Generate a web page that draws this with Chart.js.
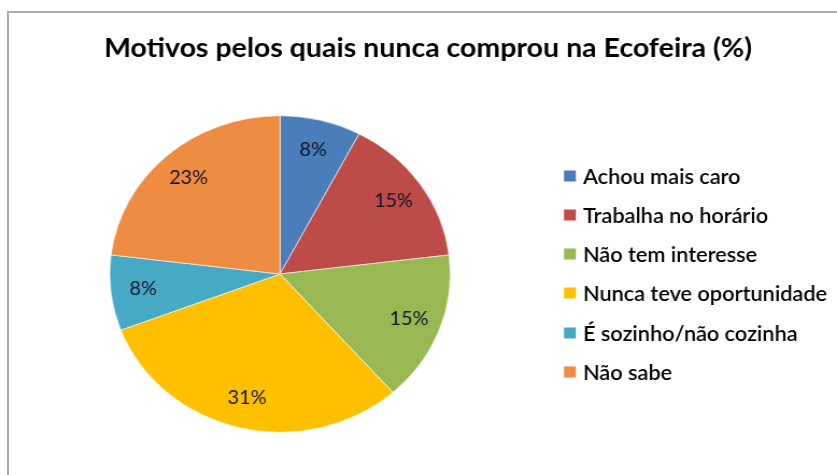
<!DOCTYPE html>
<html>
<head>
<meta charset="utf-8">
<script src="https://cdn.jsdelivr.net/npm/chart.js@4/dist/chart.umd.min.js"></script>
<style>
  html, body { margin: 0; padding: 0; background: #ffffff; overflow: hidden; }
  #wrap { position: relative; width: 837px; height: 475px; }
  #frame { position: absolute; left: 7px; top: 11px; width: 840px; height: 470px;
           border-left: 2px solid #ababab; border-top: 2px solid #ababab; box-sizing: border-box; }
  #c { position: absolute; left: 0; top: 0; }
</style>
</head>
<body>
<div id="wrap">
  <div id="frame"></div>
  <canvas id="c" width="778" height="475" style="width:837px;height:475px;"></canvas>
</div>
<script>
const titleText = 'Motivos pelos quais nunca comprou na Ecofeira (%)';
const categories = ['Achou mais caro', 'Trabalha no horário', 'Não tem interesse',
                    'Nunca teve oportunidade', 'É sozinho/não cozinha', 'Não sabe'];
const values = [7.7, 15.4, 15.4, 30.8, 7.7, 23.1];
const colors = ['#4A7DBA', '#BD4B48', '#97B853', '#FFC000', '#46AAC5', '#EE8D42'];

const K = 778 / 837; // horizontal compression of intrinsic canvas vs display
const FAMILY = 'Lato, "Open Sans", sans-serif';

function fitSize(ctx, text, weight, targetW) {
  ctx.font = weight + ' 20px ' + FAMILY;
  const w = ctx.measureText(text).width;
  return 20 * targetW / w;
}

const overlay = {
  id: 'overlay',
  afterDraw(chart) {
    const ctx = chart.ctx;
    ctx.save();
    // title: tall, condensed
    ctx.font = 'bold 26px ' + FAMILY;
    const tw = ctx.measureText(titleText).width;
    const sx = (648 * K) / tw;
    ctx.save();
    ctx.translate(428 * K, 57);
    ctx.scale(sx, 1);
    ctx.fillStyle = '#000000';
    ctx.textAlign = 'center';
    ctx.textBaseline = 'alphabetic';
    ctx.fillText(titleText, 0, 0);
    ctx.restore();

    // legend
    const ls = fitSize(ctx, categories[3], '600', 244 * K);
    ctx.font = '600 ' + ls.toFixed(2) + 'px ' + FAMILY;
    ctx.textAlign = 'left';
    ctx.textBaseline = 'middle';
    const rowY = [176, 215, 254, 293, 333, 372];
    categories.forEach((lab, i) => {
      const y = rowY[i];
      ctx.fillStyle = colors[i];
      ctx.fillRect(564 * K, y - 5.5, 11, 11);
      ctx.fillStyle = '#000000';
      ctx.fillText(lab, 583 * K, y + 1);
    });

    // data labels
    const meta = chart.getDatasetMeta(0);
    const ds = fitSize(ctx, '15%', 'normal', 39 * K);
    ctx.font = 'normal ' + ds.toFixed(2) + 'px ' + FAMILY;
    ctx.fillStyle = '#15152a';
    ctx.textAlign = 'center';
    ctx.textBaseline = 'middle';
    meta.data.forEach((arc, i) => {
      const p = arc.getProps(['x', 'y', 'startAngle', 'endAngle', 'outerRadius'], true);
      const mid = (p.startAngle + p.endAngle) / 2;
      const r = p.outerRadius * 0.81;
      ctx.fillText(Math.round(values[i]) + '%', p.x + Math.cos(mid) * r, p.y + Math.sin(mid) * r);
    });
    ctx.restore();
  }
};

new Chart(document.getElementById('c'), {
  type: 'pie',
  data: {
    labels: categories,
    datasets: [{
      data: values,
      backgroundColor: colors,
      borderColor: 'rgba(255,255,255,0.6)',
      borderWidth: 1
    }]
  },
  options: {
    responsive: false,
    animation: false,
    devicePixelRatio: 1,
    layout: { padding: { left: 101.5, right: 359, top: 115, bottom: 42 } },
    plugins: {
      legend: { display: false },
      title: { display: false },
      tooltip: { enabled: false }
    }
  },
  plugins: [overlay]
});
</script>
</body>
</html>
